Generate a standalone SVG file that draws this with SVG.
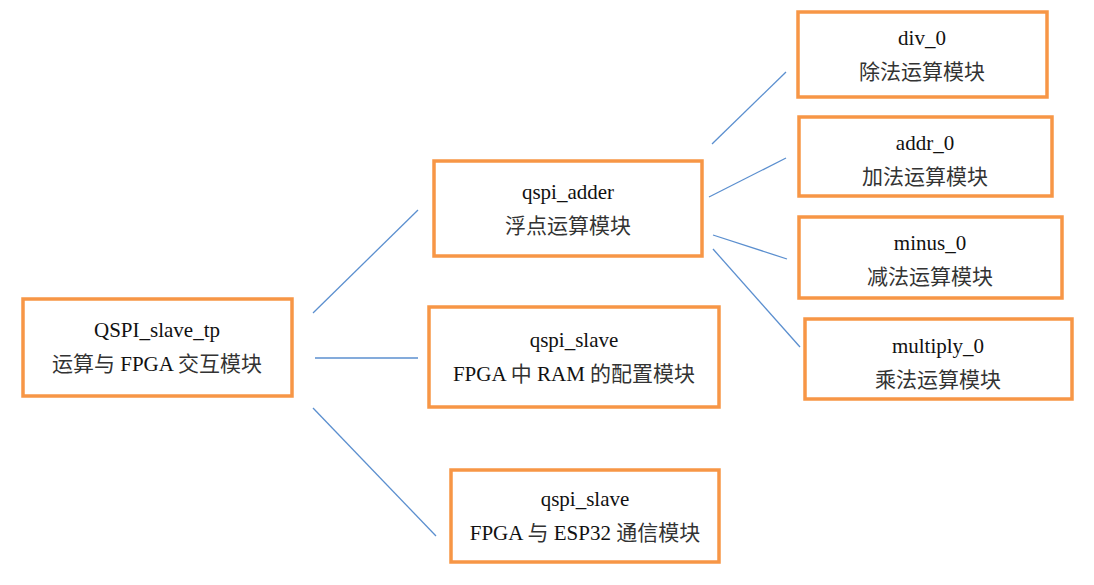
<svg xmlns="http://www.w3.org/2000/svg" width="1094" height="585" viewBox="0 0 1094 585">
<style>
.box{fill:#fff;stroke:#F79646;stroke-width:3.5}
.t{font-family:"Liberation Serif",serif;font-size:21px;fill:#111;text-anchor:middle}
.k{font-family:"Noto Sans CJK SC",sans-serif;fill:#333;font-size:21px}
.l{font-family:"Liberation Serif",serif;fill:#111}
.c{stroke:#5B8FCF;stroke-width:1.3;fill:none}
</style>
<rect width="1094" height="585" fill="#fff"/>
<g id="connectors">
<line class="c" x1="313" y1="313" x2="418" y2="210"/>
<line class="c" x1="315" y1="358" x2="418" y2="358"/>
<line class="c" x1="313" y1="408" x2="436" y2="536"/>
<line class="c" x1="712" y1="144" x2="786" y2="72"/>
<line class="c" x1="709" y1="197" x2="786" y2="158"/>
<line class="c" x1="713" y1="235" x2="787" y2="259"/>
<line class="c" x1="713" y1="249" x2="800" y2="347"/>
</g>
<g id="n_top">
<rect class="box" x="23" y="299" width="269" height="97"/>
<text class="t" x="157" y="337">QSPI_slave_tp</text>
<text class="t" x="157" y="371"><tspan class="k">运算与</tspan><tspan class="l"> FPGA </tspan><tspan class="k">交互模块</tspan></text>
</g>
<g id="n_adder">
<rect class="box" x="434" y="161" width="268" height="95"/>
<text class="t" x="568" y="199">qspi_adder</text>
<text class="t" x="568" y="233"><tspan class="k">浮点运算模块</tspan></text>
</g>
<g id="n_slave_ram">
<rect class="box" x="429" y="307" width="290" height="100"/>
<text class="t" x="574" y="347">qspi_slave</text>
<text class="t" x="574" y="381"><tspan class="l">FPGA </tspan><tspan class="k">中</tspan><tspan class="l"> RAM </tspan><tspan class="k">的配置模块</tspan></text>
</g>
<g id="n_slave_esp">
<rect class="box" x="451" y="470" width="268" height="92"/>
<text class="t" x="585" y="506">qspi_slave</text>
<text class="t" x="585" y="540"><tspan class="l">FPGA </tspan><tspan class="k">与</tspan><tspan class="l"> ESP32 </tspan><tspan class="k">通信模块</tspan></text>
</g>
<g id="n_div">
<rect class="box" x="798" y="12" width="249" height="85"/>
<text class="t" x="922" y="45">div_0</text>
<text class="t" x="922" y="79"><tspan class="k">除法运算模块</tspan></text>
</g>
<g id="n_addr">
<rect class="box" x="799" y="117" width="253" height="79"/>
<text class="t" x="925" y="150">addr_0</text>
<text class="t" x="925" y="184"><tspan class="k">加法运算模块</tspan></text>
</g>
<g id="n_minus">
<rect class="box" x="799" y="217" width="263" height="81"/>
<text class="t" x="930" y="250">minus_0</text>
<text class="t" x="930" y="284"><tspan class="k">减法运算模块</tspan></text>
</g>
<g id="n_multiply">
<rect class="box" x="805" y="319" width="267" height="80"/>
<text class="t" x="938" y="353">multiply_0</text>
<text class="t" x="938" y="387"><tspan class="k">乘法运算模块</tspan></text>
</g>
</svg>
